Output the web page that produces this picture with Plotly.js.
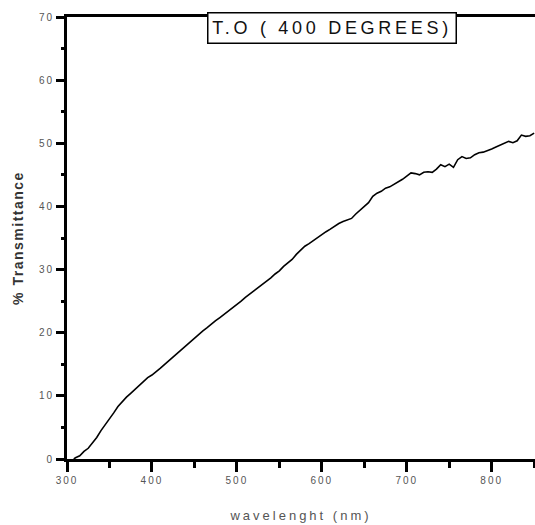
<!DOCTYPE html>
<html>
<head>
<meta charset="utf-8">
<script src="https://cdn.plot.ly/plotly-3.0.1.min.js"></script>
<style>
  html, body { margin: 0; padding: 0; background: #fff; }
  #chart { width: 535px; height: 525px; }
  g.xtick text, g.ytick text { letter-spacing: 2px; }
  .g-xtitle text { letter-spacing: 3px; }
  .g-ytitle text { letter-spacing: 1.5px; }
  .annotation-text { letter-spacing: 3.7px; }
</style>
</head>
<body>
<div id="chart"></div>
<script>
const chartTitle = "T.O ( 400 DEGREES)";
const xTitle = "wavelenght (nm)";
const yTitle = "% Transmittance";

const wavelength = [308,310,315,320,325,330,335,340,345,350,355,360,365,370,375,380,385,390,395,400,
  405,410,415,420,425,430,435,440,445,450,455,460,465,470,475,480,485,490,495,500,
  505,510,515,520,525,530,535,540,545,550,555,560,565,570,575,580,585,590,595,600,
  605,610,615,620,625,630,635,640,645,650,655,660,665,670,675,680,685,690,695,700,
  705,710,715,720,725,730,735,740,745,750,755,760,765,770,775,780,785,790,795,800,
  805,810,815,820,825,830,835,840,845,850];
const transmittance = [0.0,0.2,0.5,1.2,1.7,2.5,3.4,4.5,5.4,6.4,7.3,8.3,9.1,9.8,10.4,11.0,11.6,12.2,12.9,13.3,
  13.8,14.4,15.0,15.6,16.2,16.7,17.4,17.9,18.6,19.1,19.7,20.3,20.8,21.4,21.9,22.4,22.9,23.5,24.0,24.4,
  25.0,25.6,26.1,26.7,27.2,27.7,28.2,28.7,29.3,29.8,30.5,31.1,31.6,32.4,33.1,33.7,34.1,34.6,35.1,35.6,
  36.0,36.4,36.9,37.3,37.6,37.8,38.1,38.8,39.4,39.9,40.6,41.6,42.1,42.4,42.9,43.1,43.5,43.8,44.3,44.8,
  45.3,45.2,45.0,45.4,45.5,45.4,45.9,46.6,46.3,46.7,46.2,47.4,47.9,47.6,47.7,48.2,48.5,48.6,48.8,49.1,
  49.4,49.7,49.9,50.3,50.1,50.4,51.3,51.1,51.2,51.6];

const xTickVals = [300,400,500,600,700,800];
const yTickVals = [0,10,20,30,40,50,60,70];

const trace = {
  x: wavelength,
  y: transmittance,
  type: 'scatter',
  mode: 'lines',
  line: { color: '#000', width: 1.6 },
  hoverinfo: 'skip'
};

const tickFont = { family: 'Liberation Sans, Arial, sans-serif', size: 10, color: '#555' };

const layout = {
  width: 535,
  height: 525,
  margin: { l: 67, r: 0, t: 17, b: 66, pad: 0 },
  paper_bgcolor: '#fff',
  plot_bgcolor: '#fff',
  showlegend: false,
  xaxis: {
    range: [300, 851],
    tickmode: 'array',
    tickvals: xTickVals,
    ticks: 'outside',
    ticklen: 10,
    tickwidth: 3,
    tickcolor: '#000000',
    showline: true,
    linecolor: '#000000',
    linewidth: 3,
    mirror: true,
    showgrid: false,
    zeroline: false,
    tickfont: tickFont,
    minor: { tick0: 350, dtick: 100, ticks: 'outside', ticklen: 6, tickwidth: 3, tickcolor: '#000000' },
    title: { text: xTitle, standoff: 26, font: { family: 'Liberation Sans, Arial, sans-serif', size: 13, color: '#555' } }
  },
  yaxis: {
    range: [0, 70],
    tickmode: 'array',
    tickvals: yTickVals,
    ticks: 'outside',
    ticklen: 8,
    tickwidth: 3,
    tickcolor: '#000000',
    showline: true,
    linecolor: '#000000',
    linewidth: 3,
    mirror: false,
    showgrid: false,
    zeroline: false,
    tickfont: tickFont,
    minor: { tick0: 5, dtick: 10, ticks: 'outside', ticklen: 3, tickwidth: 3, tickcolor: '#000000' },
    title: { text: yTitle, standoff: 12, font: { family: 'Liberation Sans, Arial, sans-serif', size: 14, color: '#333', weight: 'bold' } }
  },
  annotations: [{
    text: chartTitle,
    xref: 'paper', yref: 'paper',
    x: 0.566, y: 0.975,
    xanchor: 'center', yanchor: 'middle',
    showarrow: false,
    width: 247, height: 29,
    align: 'center',
    bgcolor: '#ffffff',
    bordercolor: '#000000',
    borderwidth: 1.5,
    borderpad: 0,
    font: { family: 'Liberation Sans, Arial, sans-serif', size: 18, color: '#111' }
  }]
};

Plotly.newPlot('chart', [trace], layout, { displayModeBar: false });
</script>
</body>
</html>
